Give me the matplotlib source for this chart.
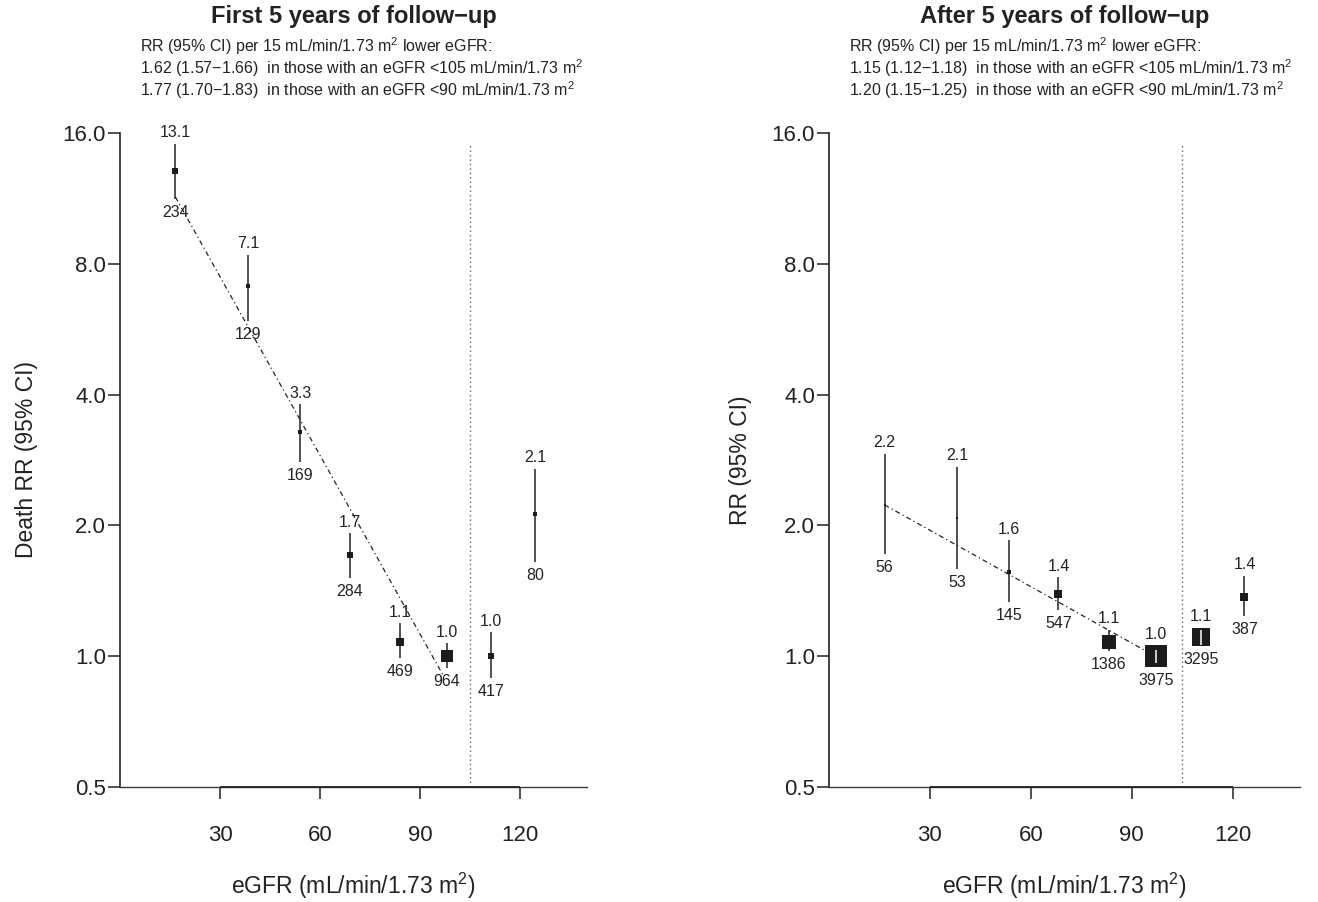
import numpy as np
import matplotlib
matplotlib.use('Agg')
import matplotlib.pyplot as plt

# ---------------- data ----------------
egfr_first = [16.6, 38.3, 54.1, 68.9, 83.8, 97.9, 111.3, 124.4]
rr_first = [13.1, 7.1, 3.28, 1.71, 1.08, 1.00, 1.00, 2.12]
lo_first = [11.3, 5.9, 2.80, 1.51, 0.99, 0.94, 0.89, 1.65]
hi_first = [15.1, 8.4, 3.80, 1.92, 1.19, 1.07, 1.135, 2.70]
n_first = [234, 129, 169, 284, 469, 964, 417, 80]
fit_first_x = [16.6, 97.0]
fit_first_y = [11.4, 0.90]

egfr_after = [16.5, 38.1, 53.6, 68.2, 83.2, 97.3, 110.6, 123.5]
rr_after = [2.23, 2.08, 1.565, 1.39, 1.08, 1.00, 1.11, 1.37]
lo_after = [1.72, 1.59, 1.33, 1.28, 1.03, 0.965, 1.06, 1.24]
hi_after = [2.92, 2.73, 1.85, 1.52, 1.15, 1.036, 1.15, 1.53]
n_after = [56, 53, 145, 547, 1386, 3975, 3295, 387]
fit_after_x = [16.5, 94.0]
fit_after_y = [2.23, 1.03]

cutoff = 105
cutoff_top = 15.0
yticks = [0.5, 1, 2, 4, 8, 16]
ytick_labels = ['0.5', '1.0', '2.0', '4.0', '8.0', '16.0']
xticks = [30, 60, 90, 120]
xlims = (0, 140)

titles = ['First 5 years of follow\u2212up', 'After 5 years of follow\u2212up']
sub_head = 'RR (95% CI) per 15 mL/min/1.73 m$^2$ lower eGFR:'
sub_first = ['1.62 (1.57\u22121.66)  in those with an eGFR <105 mL/min/1.73 m$^2$',
             '1.77 (1.70\u22121.83)  in those with an eGFR <90 mL/min/1.73 m$^2$']
sub_after = ['1.15 (1.12\u22121.18)  in those with an eGFR <105 mL/min/1.73 m$^2$',
             '1.20 (1.15\u22121.25)  in those with an eGFR <90 mL/min/1.73 m$^2$']
ylabels = ['Death RR (95% CI)', 'RR (95% CI)']
xlabel = 'eGFR (mL/min/1.73 m$^2$)'

# ---------------- style ----------------
plt.rcParams['font.family'] = ['Liberation Sans', 'DejaVu Sans']
plt.rcParams['mathtext.fontset'] = 'custom'
plt.rcParams['mathtext.rm'] = 'Liberation Sans'
plt.rcParams['mathtext.it'] = 'Liberation Sans:italic'
plt.rcParams['mathtext.bf'] = 'Liberation Sans:bold'
plt.rcParams['mathtext.default'] = 'regular'

W, H, DPI = 1318, 902, 100
fig = plt.figure(figsize=(W / DPI, H / DPI), dpi=DPI)

INK = '#222222'
BOX_K = 1.52  # box side (px) * log(CI ratio)


def fx(px):
    return px / W


def fy(py):
    return 1 - py / H


ax_px = [(120, 587), (829, 1300)]
y_top_px, y_bot_px = 133, 787

axes = []
for (l, r) in ax_px:
    ax = fig.add_axes([fx(l), fy(y_bot_px), (r - l) / W, (y_bot_px - y_top_px) / H])
    axes.append(ax)

panels = [
    (egfr_first, rr_first, lo_first, hi_first, n_first, fit_first_x, fit_first_y),
    (egfr_after, rr_after, lo_after, hi_after, n_after, fit_after_x, fit_after_y),
]

for i, (ax, (x, rr, lo, hi, n, fitx, fity)) in enumerate(zip(axes, panels)):
    ax.set_yscale('log')
    ax.set_xlim(*xlims)
    ax.set_ylim(yticks[0], yticks[-1])
    ax.patch.set_visible(False)
    for s in ['top', 'right']:
        ax.spines[s].set_visible(False)
    ax.spines['left'].set_bounds(yticks[0], yticks[-1])
    ax.spines['left'].set_linewidth(1.2)
    ax.spines['left'].set_color(INK)
    ax.spines['bottom'].set_linewidth(1.0)
    ax.spines['bottom'].set_color('#3a3a3a')
    ax.plot([xticks[0], xticks[-1]], [yticks[0], yticks[0]], color=INK, lw=1.3,
            clip_on=False, zorder=5, solid_capstyle='butt')
    ax.set_yticks(yticks)
    ax.set_yticklabels(ytick_labels)
    ax.yaxis.set_minor_locator(matplotlib.ticker.NullLocator())
    ax.set_xticks(xticks)
    ax.set_xticklabels([str(t) for t in xticks])
    ax.tick_params(axis='y', direction='out', length=8.5, width=1.1, pad=1.5,
                   labelsize=16, colors=INK)
    ax.tick_params(axis='x', direction='out', length=8.5, width=1.1, pad=19,
                   labelsize=16, colors=INK)

    # reference threshold line
    ax.plot([cutoff, cutoff], [yticks[0], cutoff_top], color='#666666', lw=1.0,
            ls=(0, (1, 2.2)), zorder=1)
    # fitted trend
    ax.plot(fitx, fity, color=INK, lw=0.9, ls=(0, (4, 2.5, 1, 2.5)), zorder=2)

    tr = ax.transData
    inv = tr.inverted()
    for xi, ri, li, hi_, ni in zip(x, rr, lo, hi, n):
        side = BOX_K / np.log(hi_ / li)
        half = side / 2
        _, p_c = tr.transform((xi, ri))
        _, p_hi = tr.transform((xi, hi_))
        _, p_lo = tr.transform((xi, li))
        inside = (p_hi - p_c) <= half and (p_c - p_lo) <= half
        ax.plot([xi, xi], [li, hi_], color=INK, lw=1.1, zorder=3,
                solid_capstyle='butt')
        ax.plot([xi], [ri], marker='s', ms=side * 72 / DPI, mew=0, color='#1c1c1c',
                zorder=4, ls='none')
        if inside:
            ax.plot([xi, xi], [li, hi_], color='white', lw=1.1, zorder=5,
                    solid_capstyle='butt')
        top_px = max(p_hi, p_c + half)
        bot_px = min(p_lo, p_c - half)
        top_val = inv.transform((0, top_px))[1]
        bot_val = inv.transform((0, bot_px))[1]
        ax.annotate(f'{ri:.1f}', xy=(xi, top_val), xytext=(0, 4.7),
                    textcoords='offset points', ha='center', va='baseline',
                    fontsize=11.5, color=INK, annotation_clip=False, zorder=6)
        ax.annotate(f'{ni}', xy=(xi, bot_val), xytext=(0, -4.3),
                    textcoords='offset points', ha='center', va='top',
                    fontsize=11.5, color=INK, annotation_clip=False, zorder=6)

# headers
subs = [sub_first, sub_after]
ylab_x = [27, 740]
for i, (l, r) in enumerate(ax_px):
    cx = (l + r) / 2
    fig.text(fx(cx), fy(17), titles[i], ha='center', va='center', fontsize=17,
             fontweight='bold', color=INK)
    lines = [sub_head] + subs[i]
    for j, t in enumerate(lines):
        fig.text(fx(l + 20), fy(46 + 22 * j), t, ha='left', va='center',
                 fontsize=11.5, color=INK)
    fig.text(fx(ylab_x[i]), fy((y_top_px + y_bot_px) / 2), ylabels[i],
             rotation=90, ha='center', va='center', fontsize=16.5, color=INK)
    fig.text(fx(cx), fy(886), xlabel, ha='center', va='center', fontsize=16.5,
             color=INK)

fig.savefig('out.png', dpi=DPI, facecolor='white')
